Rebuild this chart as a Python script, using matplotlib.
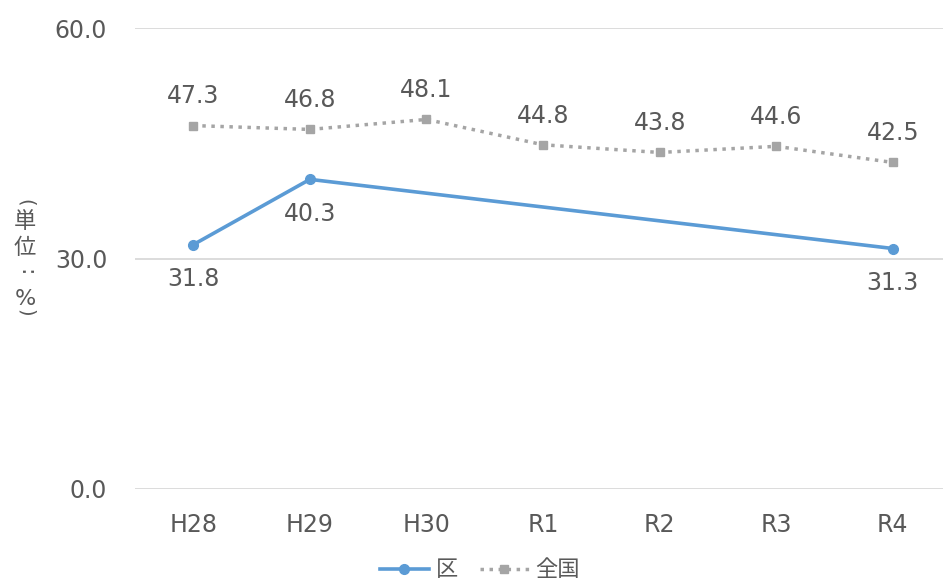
import numpy as np
import matplotlib
matplotlib.use("Agg")
import matplotlib.pyplot as plt
from matplotlib.lines import Line2D

plt.rcParams['font.family'] = ['DejaVu Sans', 'Noto Sans CJK JP']

categories = ["H28", "H29", "H30", "R1", "R2", "R3", "R4"]
ward = [31.8, 40.3, np.nan, np.nan, np.nan, np.nan, 31.3]
national = [47.3, 46.8, 48.1, 44.8, 43.8, 44.6, 42.5]
yticks = [0.0, 30.0, 60.0]
series_names = ["区", "全国"]
ylabel_chars = ["(", "単", "位", ":", "%", ")"]

blue = "#5B9BD5"
gray = "#A5A5A5"
txt = "#595959"
grid = "#D9D9D9"
fs = 17

fig = plt.figure(figsize=(9.43, 5.83), dpi=100)
ax = fig.add_axes([135/943, 1-489/583, 1-135/943, (489-28)/583])

x = np.arange(len(categories))
ward_arr = np.array(ward, dtype=float)
m = ~np.isnan(ward_arr)

for yv in yticks:
    ax.axhline(yv, color=grid, lw=1.3, zorder=0)

ax.plot(x, national, color=gray, lw=2.5, ls=(0, (1, 1.6)), marker="s",
        markersize=6, markerfacecolor=gray, markeredgecolor=gray, zorder=2, clip_on=False)
ax.plot(x[m], ward_arr[m], color=blue, lw=2.6, marker="o", markersize=7,
        markerfacecolor=blue, markeredgecolor=blue, zorder=3, clip_on=False)

for xi, v in zip(x, national):
    ax.annotate(f"{v:.1f}", (xi, v), xytext=(0, 21), textcoords="offset points",
                ha="center", va="center", fontsize=fs, color=txt)
for xi, v in zip(x[m], ward_arr[m]):
    ax.annotate(f"{v:.1f}", (xi, v), xytext=(0, -25), textcoords="offset points",
                ha="center", va="center", fontsize=fs, color=txt)

ax.set_xlim(-0.5, 6.43)
ax.set_ylim(0, 60)
ax.set_xticks(x)
ax.set_xticklabels(categories)
ax.set_yticks(yticks)
ax.set_yticklabels([f"{v:.1f}" for v in yticks])
ax.tick_params(axis="both", length=0, labelsize=fs, labelcolor=txt)
ax.tick_params(axis="x", pad=17)
ax.tick_params(axis="y", pad=20)
for s in ax.spines.values():
    s.set_visible(False)

# vertical (tategaki) unit label: CJK upright, punctuation rotated
label_y = [203, 221, 248, 273, 299, 313]
label_rot = [270, 0, 0, 270, 0, 270]
label_fs = [14, 16, 16, 16, 16, 14]
label_fam = ['DejaVu Sans', 'Noto Sans CJK JP', 'Noto Sans CJK JP', 'DejaVu Sans',
             'DejaVu Sans', 'DejaVu Sans']
for ch, yp, rot, f, fam in zip(ylabel_chars, label_y, label_rot, label_fs, label_fam):
    fig.text(25/943, 1-yp/583, ch, ha="center", va="center", fontsize=f, color=txt,
             rotation=rot, family=fam)

handles = [
    Line2D([], [], color=blue, lw=2.6, marker="o", markersize=7),
    Line2D([], [], color=gray, lw=2.5, ls=(0, (1, 1.6)), marker="s", markersize=6),
]
leg = fig.legend(handles, series_names, loc="center", bbox_to_anchor=(480/943, 1-570/583),
                 ncol=2, frameon=False, handlelength=2.2, handletextpad=0.3,
                 columnspacing=1.0, prop={'family': ['Noto Sans CJK JP'], 'size': 16})
for t in leg.get_texts():
    t.set_color(txt)

fig.savefig("out.png", dpi=100)
